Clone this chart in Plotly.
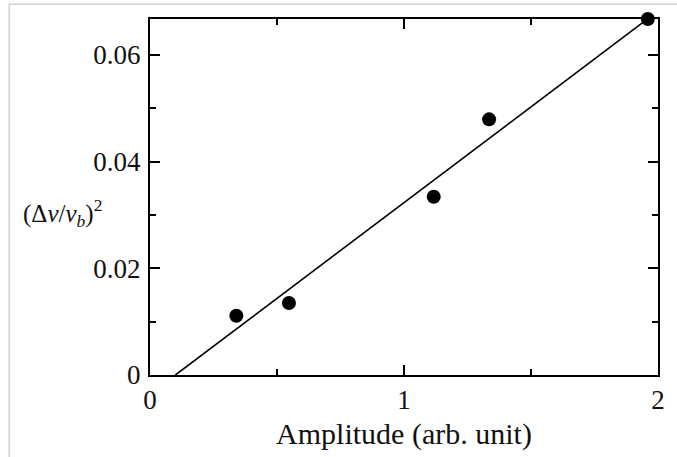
import plotly.graph_objects as go

# Data
amplitude = [0.34, 0.547, 1.117, 1.335, 1.96]
dv_sq = [0.0111, 0.0135, 0.0334, 0.0479, 0.0667]

fit_x = [0.10, 1.95]
fit_y = [0.0, 0.0664]

x_ticks = [0, 1, 2]
y_ticks = [0, 0.02, 0.04, 0.06]
y_tick_text = ["0", "0.02", "0.04", "0.06"]

W, H = 677, 457
L, R, T, B = 150, 15, 19, 79

fig = go.Figure()
fig.add_trace(go.Scatter(x=fit_x, y=fit_y, mode="lines",
                         line=dict(color="black", width=1.6),
                         showlegend=False, cliponaxis=False))
fig.add_trace(go.Scatter(x=amplitude, y=dv_sq, mode="markers",
                         marker=dict(color="black", size=14),
                         showlegend=False, cliponaxis=False))

font = dict(family="Liberation Serif, Times New Roman, serif", color="#111", size=26)

fig.update_layout(
    width=W, height=H,
    margin=dict(l=L, r=R, t=T, b=B),
    paper_bgcolor="white", plot_bgcolor="white",
    font=font,
    xaxis=dict(range=[0, 2], tickvals=x_ticks, ticks="inside", ticklen=10,
               tickwidth=1.5, tickcolor="black", showline=True, linecolor="black",
               linewidth=2, mirror="ticks", showgrid=False, zeroline=False,
               minor=dict(ticks="inside", ticklen=6, tickcolor="black",
                          tickwidth=1.5, dtick=0.5, showgrid=False),
               title=dict(text="Amplitude (arb. unit)", standoff=9,
                          font=dict(size=30)),
               tickfont=dict(size=27)),
    yaxis=dict(range=[0, 0.0667], tickvals=y_ticks, ticktext=y_tick_text,
               ticks="inside", ticklen=10, tickwidth=1.5, tickcolor="black",
               showline=True, linecolor="black", linewidth=2, mirror="ticks",
               showgrid=False, zeroline=False,
               minor=dict(ticks="inside", ticklen=6, tickcolor="black",
                          tickwidth=1.5, dtick=0.01, showgrid=False),
               tickfont=dict(size=27), ticklabelstandoff=2),
)

fig.add_annotation(xref="paper", yref="paper", x=(62 - L) / (W - L - R),
                   y=(H - B - 215) / (H - T - B),
                   text="(Δ<i>v</i>/<i>v</i><sub><i>b</i></sub>)<sup>2</sup>",
                   showarrow=False, font=dict(size=25), xanchor="center",
                   yanchor="middle")

# light grey frame lines of the scanned page (top and left)
fig.add_shape(type="line", xref="paper", yref="paper",
              x0=(8 - L) / (W - L - R), x1=1.1, y0=(H - B - 4) / (H - T - B),
              y1=(H - B - 4) / (H - T - B), line=dict(color="#bbbbbb", width=1))
fig.add_shape(type="line", xref="paper", yref="paper",
              x0=(8 - L) / (W - L - R), x1=(8 - L) / (W - L - R),
              y0=-0.3, y1=(H - B - 4) / (H - T - B),
              line=dict(color="#bbbbbb", width=1))

fig.write_html("out.html")
